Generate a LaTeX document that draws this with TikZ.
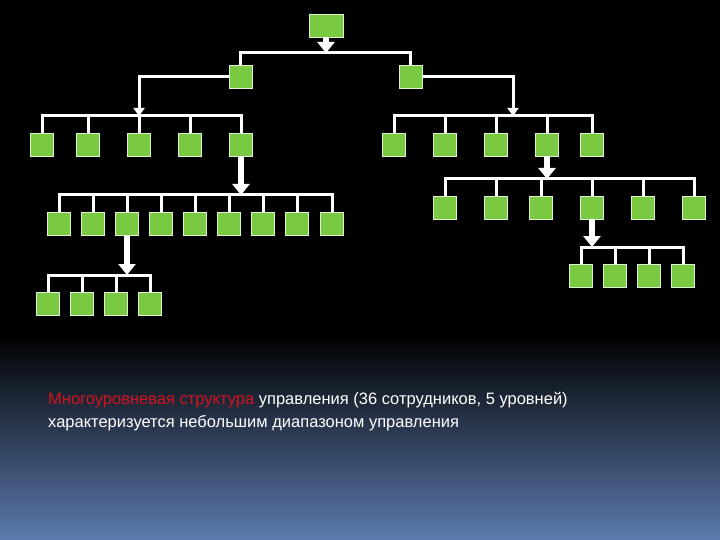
\documentclass[tikz,border=0pt]{standalone}
\usepackage{fontspec}
\setmainfont{Liberation Sans}
\usetikzlibrary{arrows.meta}
\definecolor{gbox}{RGB}{122,201,67}
\definecolor{bgbot}{RGB}{92,122,172}
\definecolor{txtred}{RGB}{210,20,30}
\begin{document}
\begin{tikzpicture}[x=1pt,y=-1pt,
  box/.style={draw=white!75!gbox,line width=0.9pt,fill=gbox,minimum width=23pt,minimum height=23pt,inner sep=0pt},
  wire/.style={draw=white,line width=3pt},
  bigarrow/.style={draw=white,line width=6pt,-{Triangle[width=17pt,length=11pt]}},
  smallarrow/.style={draw=white,line width=3pt,-{Triangle[width=11pt,length=8pt]}}]
\useasboundingbox (0,0) rectangle (720,540);
\fill[black] (0,0) rectangle (720,335);
\shade[top color=black,bottom color=bgbot] (0,334) rectangle (720,540);
% top
\node[box,minimum width=34pt] (top) at (326,25.5) {};
\node[box] (L) at (240.5,76.5) {};
\node[box] (R) at (410.5,76.5) {};
\coordinate (tb) at (326,53);
\draw[bigarrow] (top.south) -- (tb);
\draw[wire,line cap=round] (L.north) |- (tb) -| (R.north);
% level 3 left
\foreach \x [count=\i] in {42,88,139,190,241} \node[box] (a\i) at (\x,144.5) {};
\coordinate (ab) at (139,116);
\draw[smallarrow] (L.west) -| (ab);
\draw[wire] (a1.north) |- (ab) -| (a5.north);
\foreach \i in {2,3,4} \draw[wire] (a\i.north) -- (a\i.north |- ab);
% level 3 right
\foreach \x [count=\i] in {394,445,496,547,592} \node[box] (b\i) at (\x,144.5) {};
\coordinate (bb) at (513,116);
\draw[smallarrow] (R.east) -| (bb);
\draw[wire] (b1.north) |- (bb) -| (b5.north);
\foreach \i in {2,3,4} \draw[wire] (b\i.north) -- (b\i.north |- bb);
% level 4 left
\foreach \x [count=\i] in {59,93,127,161,195,229,263,297,332} \node[box] (c\i) at (\x,224) {};
\coordinate (cb) at (241,195);
\draw[bigarrow] (a5.south) -- (cb);
\draw[wire] (c1.north) |- (cb) -| (c9.north);
\foreach \i in {2,...,8} \draw[wire] (c\i.north) -- (c\i.north |- cb);
% level 5 left
\foreach \x [count=\i] in {48,82,116,150} \node[box] (d\i) at (\x,303.5) {};
\coordinate (db) at (127,275);
\draw[bigarrow] (c3.south) -- (db);
\draw[wire] (d1.north) |- (db) -| (d4.north);
\foreach \i in {2,3} \draw[wire] (d\i.north) -- (d\i.north |- db);
% level 4 right
\foreach \x [count=\i] in {445,496,541,592,643,694} \node[box] (e\i) at (\x,207.5) {};
\coordinate (eb) at (547,179);
\draw[bigarrow] (b4.south) -- (eb);
\draw[wire] (e1.north) |- (eb) -| (e6.north);
\foreach \i in {2,...,5} \draw[wire] (e\i.north) -- (e\i.north |- eb);
% level 5 right
\foreach \x [count=\i] in {581,615,649,683} \node[box] (f\i) at (\x,275.5) {};
\coordinate (fb) at (592,247);
\draw[bigarrow] (e4.south) -- (fb);
\draw[wire] (f1.north) |- (fb) -| (f4.north);
\foreach \i in {2,3} \draw[wire] (f\i.north) -- (f\i.north |- fb);
% text
\node[anchor=north west,align=left,text=white,font=\fontsize{16.5}{23}\selectfont,inner sep=0pt] (txt) at (48,392)
 {\textcolor{txtred}{Многоуровневая структура} управления (36 сотрудников, 5 уровней)\\характеризуется небольшим диапазоном управления};
\end{tikzpicture}
\end{document}
